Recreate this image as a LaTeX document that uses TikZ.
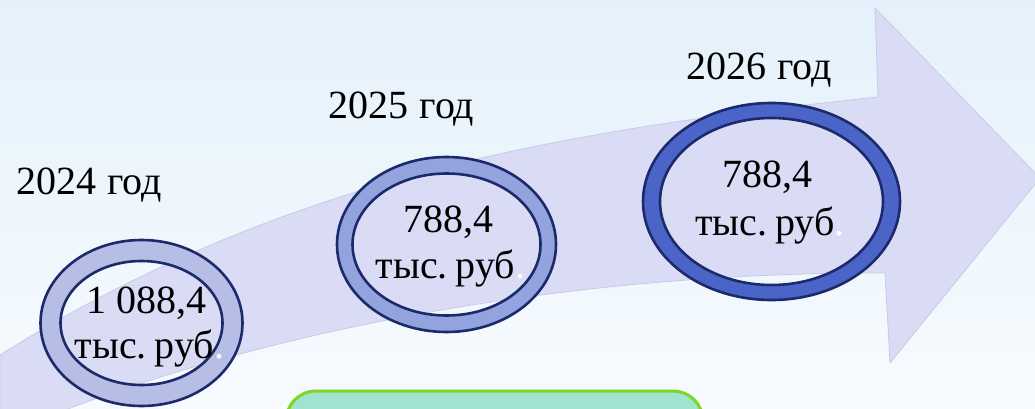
\documentclass[tikz,border=0pt]{standalone}
\usepackage{fontspec}
\setmainfont{Liberation Serif}
\definecolor{bgtop}{HTML}{E4F1FB}
\definecolor{bgbot}{HTML}{F7FBFE}
\definecolor{arrowfill}{HTML}{DADCF5}
\definecolor{arrowedge}{HTML}{C8CBE6}
\definecolor{navy}{HTML}{1C2A6C}
\definecolor{ringA}{HTML}{B6BEE6}
\definecolor{ringB}{HTML}{93A3DD}
\definecolor{ringC}{HTML}{4A64C8}
\definecolor{boxfill}{HTML}{A0E3D1}
\definecolor{boxedge}{HTML}{7ED61F}
\begin{document}
\begin{tikzpicture}[x=1pt,y=-1pt,
  bigtext/.style={anchor=base, inner sep=0pt, font=\fontsize{40}{46}\selectfont, text=black},
  ringline/.style={draw=navy, line width=2.6pt},
  arrowshape/.style={fill=arrowfill, draw=arrowedge, line width=0.8pt, line join=round},
  greenbox/.style={draw=boxedge, fill=boxfill, line width=3pt, rounded corners=30pt, inner sep=0pt}]
\useasboundingbox (0,0) rectangle (1035,409);
\clip (0,0) rectangle (1035,409);
\shade[top color=bgtop, bottom color=bgbot] (-5,-5) rectangle (1040,414);

% curved arrow
\coordinate (aL) at (0,355);
\coordinate (aN1) at (878,97);
\coordinate (aH1) at (875,8);
\coordinate (aT) at (1040,178);
\coordinate (aH2) at (890,363);
\coordinate (aN2) at (885,273);
\coordinate (aB) at (60,412);
\path[arrowshape] (aL) .. controls (300,166) and (600,127) .. (aN1)
  -- (aH1) -- (aT) -- (aH2) -- (aN2)
  .. controls (600,272) and (300,320) .. (aB) -- (0,412) -- cycle;

% rings
\coordinate (c24) at (141.5,323);
\coordinate (c25) at (446.5,244.5);
\coordinate (c26) at (771.5,201.5);

\fill[ringA, even odd rule] (c24) ellipse [x radius=101pt, y radius=83pt]
  (c24) ellipse [x radius=81pt, y radius=62pt];
\draw[ringline] (c24) ellipse [x radius=101pt, y radius=83pt];
\draw[ringline] (c24) ellipse [x radius=81pt, y radius=62pt];

\fill[ringB, even odd rule] (c25) ellipse [x radius=109.5pt, y radius=87.5pt]
  (c25) ellipse [x radius=94pt, y radius=71pt];
\draw[ringline] (c25) ellipse [x radius=109.5pt, y radius=87.5pt];
\draw[ringline] (c25) ellipse [x radius=94pt, y radius=71pt];

\fill[ringC, even odd rule] (c26) ellipse [x radius=128.5pt, y radius=98.5pt]
  (c26) ellipse [x radius=111.5pt, y radius=83.5pt];
\draw[ringline] (c26) ellipse [x radius=128.5pt, y radius=98.5pt];
\draw[ringline] (c26) ellipse [x radius=111.5pt, y radius=83.5pt];

% year labels
\node[bigtext] (y24) at (89,194) {2024\hspace{11pt}год};
\node[bigtext] (y25) at (401.5,119) {2025\hspace{11pt}год};
\node[bigtext] (y26) at (759,80) {2026\hspace{11pt}год};

% values
\node[bigtext] (v24) at (146.5,313) {1 088,4};
\node[bigtext] (u24) at (149.5,358) {тыс.\hspace{8pt}руб\textcolor{white}{.}};
\node[bigtext] (v25) at (448.5,232) {788,4};
\node[bigtext] (u25) at (450.5,278) {тыс.\hspace{8pt}руб\textcolor{white}{.}};
\node[bigtext] (v26) at (767.5,187) {788,4};
\node[bigtext] (u26) at (770,235) {тыс.\hspace{8pt}руб\textcolor{white}{.}};

% green box
\node[greenbox, minimum width=417pt, minimum height=90pt] (box) at (494.5,436) {};
\end{tikzpicture}
\end{document}
